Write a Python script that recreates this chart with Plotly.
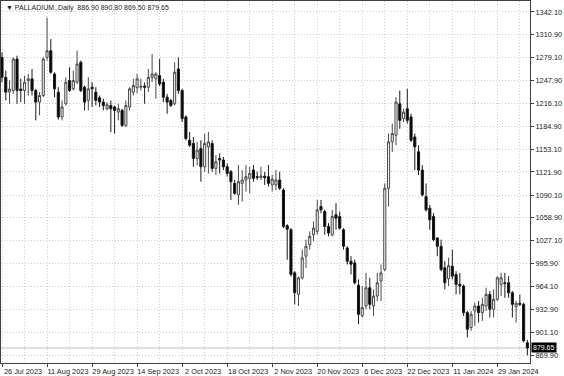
import plotly.graph_objects as go

# Daily OHLC values (bar 0 = 26 Jul 2023)
opens = [1279.6, 1252.2, 1232.0, 1234.0, 1277.3, 1236.0, 1234.0, 1247.4, 1250.0, 1234.0,
         1218.0, 1227.1, 1279.6, 1288.7, 1256.8, 1231.7, 1197.5, 1215.7, 1247.7, 1236.3,
         1245.4, 1272.8, 1238.6, 1220.3, 1238.6, 1231.7, 1224.0, 1218.0, 1208.9, 1213.4,
         1211.2, 1204.3, 1206.6, 1186.0, 1211.2, 1231.7, 1238.0, 1238.5, 1240.0, 1238.5,
         1252.0, 1250.0, 1254.5, 1245.4, 1224.8, 1220.3, 1215.7, 1263.6, 1234.0, 1197.5,
         1165.5, 1161.0, 1140.5, 1154.1, 1129.0, 1156.4, 1161.0, 1126.8, 1140.5, 1138.2,
         1129.0, 1122.2, 1106.2, 1090.3, 1106.2, 1110.8, 1113.1, 1124.5, 1115.4, 1114.4,
         1116.0, 1115.4, 1104.0, 1104.0, 1110.8, 1097.0, 1048.0, 1042.4, 983.0, 953.4,
         976.2, 1005.9, 1021.8, 1035.5, 1040.1, 1074.3, 1067.4, 1046.9, 1035.5, 1062.9,
         1060.6, 1042.4, 1017.3, 999.0, 996.7, 966.0, 923.8, 937.4, 962.5, 937.4,
         951.1, 971.7, 987.6, 1099.4, 1163.3, 1172.4, 1215.7, 1195.2, 1208.9, 1197.5,
         1170.1, 1149.6, 1124.5, 1088.0, 1072.0, 1060.6, 1031.0, 1019.6, 990.0, 975.0,
         992.2, 980.8, 967.1, 964.8, 928.3, 907.8, 930.6, 937.4, 928.3, 937.4,
         953.4, 932.9, 946.6, 967.1, 969.4, 969.4, 955.7, 936.5, 941.1, 939.7,
         886.9]
highs = [1286.4, 1261.4, 1247.7, 1279.6, 1281.9, 1250.0, 1254.5, 1256.8, 1263.6, 1236.3,
         1231.7, 1279.6, 1334.3, 1304.7, 1259.1, 1238.6, 1220.3, 1252.2, 1266.0, 1261.4,
         1288.7, 1275.0, 1240.8, 1252.2, 1245.4, 1238.6, 1227.1, 1222.6, 1218.0, 1220.3,
         1213.4, 1215.7, 1208.9, 1220.3, 1238.6, 1250.0, 1257.0, 1250.0, 1245.0, 1263.6,
         1284.2, 1259.0, 1277.3, 1249.9, 1229.4, 1222.6, 1272.7, 1279.6, 1236.3, 1199.8,
         1177.0, 1170.1, 1163.3, 1165.5, 1174.7, 1177.0, 1165.5, 1145.0, 1147.3, 1142.7,
         1133.6, 1124.5, 1110.8, 1131.3, 1124.5, 1131.3, 1129.0, 1131.3, 1122.2, 1129.0,
         1122.0, 1131.3, 1118.0, 1124.5, 1122.2, 1099.4, 1050.0, 1044.6, 985.3, 978.0,
         1015.0, 1028.7, 1040.1, 1053.8, 1083.4, 1083.4, 1069.7, 1051.5, 1069.7, 1078.9,
         1067.4, 1044.6, 1019.6, 1006.0, 1001.3, 974.0, 964.8, 983.0, 976.2, 960.3,
         983.0, 994.5, 1106.2, 1174.7, 1188.4, 1224.9, 1234.0, 1208.9, 1236.3, 1202.0,
         1174.7, 1158.7, 1131.3, 1106.2, 1076.6, 1065.2, 1032.0, 1028.7, 999.0, 1004.0,
         1015.0, 985.3, 983.0, 967.1, 930.6, 930.6, 942.0, 944.3, 948.8, 962.5,
         958.0, 960.2, 978.5, 983.0, 983.0, 978.5, 958.0, 944.3, 953.4, 942.0,
         890.8]
lows = [1245.4, 1220.3, 1215.7, 1229.4, 1215.7, 1218.0, 1215.7, 1227.1, 1227.1, 1192.9,
        1199.8, 1224.9, 1275.0, 1256.8, 1224.9, 1194.0, 1192.9, 1213.4, 1231.7, 1234.0,
        1243.1, 1231.7, 1206.6, 1206.6, 1211.2, 1213.4, 1211.2, 1206.6, 1206.6, 1177.0,
        1174.7, 1192.9, 1183.8, 1183.8, 1206.6, 1227.1, 1230.0, 1234.0, 1215.7, 1231.7,
        1245.4, 1222.6, 1240.0, 1218.0, 1202.0, 1211.2, 1213.4, 1229.4, 1190.6, 1165.5,
        1156.4, 1129.0, 1131.3, 1108.5, 1122.2, 1119.9, 1122.2, 1117.6, 1119.9, 1124.5,
        1115.4, 1083.4, 1090.3, 1076.6, 1081.2, 1094.8, 1092.5, 1108.5, 1110.8, 1110.8,
        1104.0, 1101.7, 1095.0, 1097.0, 1097.1, 1044.6, 1001.0, 978.0, 939.7, 937.4,
        973.9, 989.9, 1015.0, 1026.4, 1035.5, 1065.2, 1035.5, 1033.2, 1033.2, 1042.4,
        1042.4, 1015.0, 994.5, 980.8, 967.1, 912.3, 921.5, 932.9, 932.9, 923.8,
        944.3, 944.3, 985.3, 1074.3, 1149.6, 1158.7, 1181.5, 1190.6, 1188.4, 1163.3,
        1124.5, 1117.6, 1088.0, 1067.5, 1042.4, 1026.4, 1005.9, 985.3, 960.2, 965.0,
        973.9, 953.4, 953.4, 923.8, 894.1, 903.2, 910.0, 914.6, 916.9, 930.6,
        921.5, 921.5, 944.3, 951.1, 948.8, 948.8, 921.5, 914.6, 937.4, 887.2,
        869.5]
closes = [1252.2, 1231.7, 1236.0, 1277.3, 1234.0, 1234.0, 1245.4, 1250.0, 1234.0, 1218.0,
          1227.1, 1277.3, 1288.7, 1259.1, 1236.3, 1197.5, 1211.2, 1245.4, 1234.0, 1247.7,
          1270.5, 1234.0, 1218.0, 1236.3, 1236.3, 1220.3, 1218.0, 1213.4, 1214.3, 1208.9,
          1206.6, 1208.9, 1186.0, 1213.4, 1236.3, 1240.8, 1250.0, 1239.5, 1238.5, 1252.2,
          1256.8, 1256.8, 1243.1, 1224.8, 1218.0, 1213.4, 1259.1, 1234.0, 1195.2, 1167.8,
          1158.7, 1140.5, 1151.9, 1129.0, 1161.0, 1163.3, 1126.8, 1135.9, 1138.2, 1129.0,
          1119.9, 1108.5, 1092.5, 1108.5, 1110.8, 1115.4, 1119.9, 1113.1, 1114.4, 1116.3,
          1114.0, 1106.2, 1112.0, 1110.8, 1099.4, 1046.9, 1043.0, 980.8, 955.7, 976.2,
          1003.6, 1019.8, 1033.2, 1044.6, 1069.7, 1069.7, 1046.9, 1037.8, 1060.6, 1058.3,
          1044.6, 1019.6, 999.0, 995.0, 969.4, 926.0, 935.2, 962.5, 939.7, 951.1,
          969.4, 983.0, 1099.4, 1163.3, 1174.7, 1218.0, 1192.9, 1204.3, 1192.9, 1165.5,
          1156.4, 1124.5, 1090.3, 1069.7, 1056.0, 1028.7, 1019.6, 987.6, 969.4, 993.0,
          978.5, 967.1, 964.8, 928.3, 905.5, 926.0, 937.4, 928.3, 939.7, 953.4,
          932.9, 946.6, 976.2, 976.2, 968.4, 955.7, 939.7, 941.1, 939.7, 889.5,
          879.65]

date_labels = ["26 Jul 2023", "11 Aug 2023", "29 Aug 2023", "14 Sep 2023", "2 Oct 2023",
               "18 Oct 2023", "2 Nov 2023", "20 Nov 2023", "6 Dec 2023", "22 Dec 2023",
               "11 Jan 2024", "29 Jan 2024"]
label_bars = [0, 12, 24, 36, 48, 60, 72, 84, 96, 108, 120, 132]
mid_bars = [6, 18, 30, 42, 54, 66, 78, 90, 102, 114, 126, 138]
price_ticks = [1342.10, 1310.90, 1279.10, 1247.90, 1216.10, 1184.90, 1153.10, 1121.90,
               1090.10, 1058.90, 1027.10, 995.90, 964.10, 932.90, 901.10, 869.90]
title_text = "\u25BC PALLADIUM.,Daily  886.90 890.80 869.50 879.65"

bars = list(range(len(opens)))
last_close = closes[-1]

GRID = "#cfcfcf"
AXIS = "#404040"
DASH = "1px,2px"
FONT = "Liberation Sans, Arial, sans-serif"

fig = go.Figure(go.Candlestick(
    x=bars, open=opens, high=highs, low=lows, close=closes,
    increasing=dict(line=dict(color="#4a4a4a", width=1), fillcolor="#f2f2f2"),
    decreasing=dict(line=dict(color="#1a1a1a", width=1), fillcolor="#000000"),
    whiskerwidth=0, hoverinfo="skip", showlegend=False,
))

fig.add_shape(type="line", xref="paper", x0=0, x1=1, yref="y", y0=last_close, y1=last_close,
              line=dict(color="#c0c0c0", width=1), layer="below")

fig.add_annotation(xref="paper", yref="y", x=1, y=last_close, text=f"{last_close:.2f}",
                   xanchor="left", yanchor="middle", xshift=1, showarrow=False,
                   bgcolor="#000000", borderpad=1,
                   font=dict(family=FONT, size=7, color="#ffffff"))

fig.add_annotation(xref="paper", yref="paper", x=0, y=1, text=title_text,
                   xanchor="left", yanchor="top", xshift=3, yshift=-1, showarrow=False,
                   font=dict(family=FONT, size=7, color="#222222"))

fig.update_layout(
    width=564, height=376,
    margin=dict(l=0, r=34, t=0, b=12),
    paper_bgcolor="#ffffff", plot_bgcolor="#ffffff",
    boxgap=0.2,
    font=dict(family=FONT, size=7.4, color="#222222"),
    showlegend=False,
)

fig.update_xaxes(
    range=[-0.27, 140.7],
    tickmode="array", tickvals=label_bars, ticktext=date_labels,
    ticks="outside", ticklen=3, tickcolor=AXIS, ticklabelshift=21, ticklabelstandoff=-2,
    showgrid=True, gridcolor=GRID, griddash=DASH, gridwidth=1,
    minor=dict(tickmode="array", tickvals=mid_bars, showgrid=True,
               gridcolor=GRID, griddash=DASH, ticks=""),
    showline=True, linecolor=AXIS, linewidth=1, mirror=True,
    zeroline=False, rangeslider=dict(visible=False),
)

fig.update_yaxes(
    side="right", range=[858.96, 1357.16],
    tickmode="array", tickvals=price_ticks, ticktext=[f"{v:.2f}" for v in price_ticks],
    ticks="outside", ticklen=3, tickcolor=AXIS,
    showgrid=True, gridcolor=GRID, griddash=DASH, gridwidth=1,
    showline=True, linecolor=AXIS, linewidth=1, mirror=True,
    zeroline=False,
)

fig.write_html("out.html")
